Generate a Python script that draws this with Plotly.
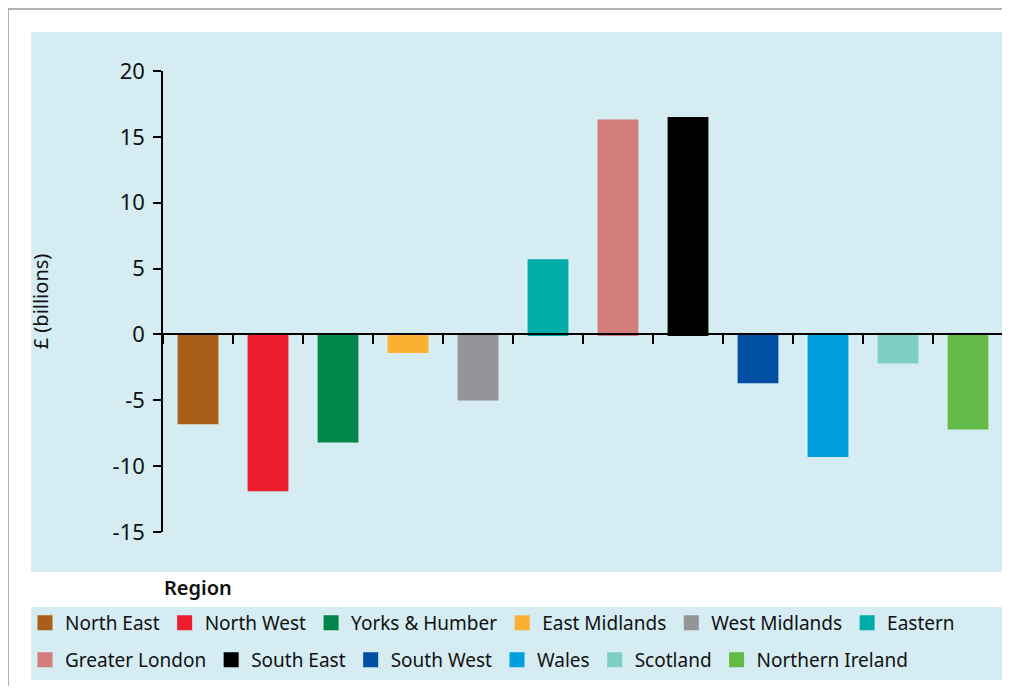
import plotly.graph_objects as go

# data
regions = ["North East", "North West", "Yorks & Humber", "East Midlands",
           "West Midlands", "Eastern", "Greater London", "South East",
           "South West", "Wales", "Scotland", "Northern Ireland"]
values = [-6.7, -11.8, -8.1, -1.3, -4.9, 5.6, 16.2, 16.4, -3.6, -9.2, -2.1, -7.1]
colors = ["#a95f1a", "#ed1c2e", "#00854a", "#fbb034", "#949599", "#00aca7",
          "#d27d7a", "#000000", "#004fa3", "#00a0df", "#7fcec2", "#62bb46"]
y_ticks = [-15, -10, -5, 0, 5, 10, 15, 20]

# the page body adds an 8px margin, so the figure is laid out 8px in
OFF = 8
W, H = 1010 - OFF, 694 - 2 * OFF
L, R, T, B = 163 - OFF, 1003 - OFF, 71 - OFF, 532 - OFF
PANEL = "#d4ecf2"
FONT = "Noto Sans"
TXT = "#111111"


def px_x(p):
    # reference pixel -> paper x
    return (p - OFF - L) / (R - L)


def px_y(q):
    # reference pixel -> paper y
    return (B - (q - OFF)) / (B - T)


fig = go.Figure()
for i, (name, val, col) in enumerate(zip(regions, values, colors)):
    fig.add_trace(go.Bar(x=[name], y=[val], name=name, marker_color=col,
                         marker_line=dict(color=col, width=3), width=0.54,
                         legend="legend" if i < 6 else "legend2"))

leg = dict(orientation="h", xanchor="left", yanchor="middle",
           bgcolor="rgba(0,0,0,0)", font=dict(size=19, family=FONT, color=TXT),
           traceorder="normal")

fig.update_layout(
    width=W, height=H,
    margin=dict(l=L, r=W - R, t=T, b=H - B),
    paper_bgcolor="white", plot_bgcolor="rgba(0,0,0,0)",
    barmode="relative",
    font=dict(family=FONT, color=TXT),
    showlegend=True,
    legend=dict(leg, x=px_x(25), y=px_y(623)),
    legend2=dict(leg, x=px_x(25), y=px_y(660)),
    shapes=[
        # outer grey frame (top and left edges)
        dict(type="line", xref="paper", yref="paper", x0=px_x(8), x1=px_x(1012),
             y0=px_y(9), y1=px_y(9), line=dict(color="#9a9a9a", width=1.5)),
        dict(type="line", xref="paper", yref="paper", x0=px_x(8), x1=px_x(8),
             y0=px_y(9), y1=px_y(700), line=dict(color="#9a9a9a", width=1.5)),
        # chart panel
        dict(type="rect", xref="paper", yref="paper", x0=px_x(31), x1=px_x(1002),
             y0=px_y(572), y1=px_y(32), fillcolor=PANEL, line_width=0, layer="below"),
        # legend panel
        dict(type="rect", xref="paper", yref="paper", x0=px_x(31), x1=px_x(1002),
             y0=px_y(680), y1=px_y(607), fillcolor=PANEL, line_width=0, layer="below"),
    ],
    annotations=[
        dict(text="Region", xref="paper", yref="paper", x=px_x(162), y=px_y(587),
             xanchor="left", yanchor="middle", showarrow=False,
             font=dict(size=20, family=FONT, color=TXT, weight=600)),
    ],
)

fig.update_yaxes(
    range=[-15, 20], tickvals=y_ticks, ticktext=[str(v) for v in y_ticks],
    showgrid=False, zeroline=False, showline=True, linecolor="black", linewidth=1.5,
    ticks="outside", ticklen=8, tickcolor="black", tickwidth=1.5,
    ticklabelstandoff=4,
    tickfont=dict(size=22, family=FONT, color=TXT),
    title=dict(text="£ (billions)", font=dict(size=20, family=FONT, color=TXT),
               standoff=59),
)

fig.update_xaxes(
    type="category", categoryorder="array", categoryarray=regions,
    anchor="free", position=15 / 35,
    showline=True, linecolor="black", linewidth=1.5,
    ticks="outside", ticklen=9, tickcolor="black", tickwidth=1.5,
    tickson="boundaries", showticklabels=False, showgrid=False, zeroline=False,
)

fig.write_html("out.html")
